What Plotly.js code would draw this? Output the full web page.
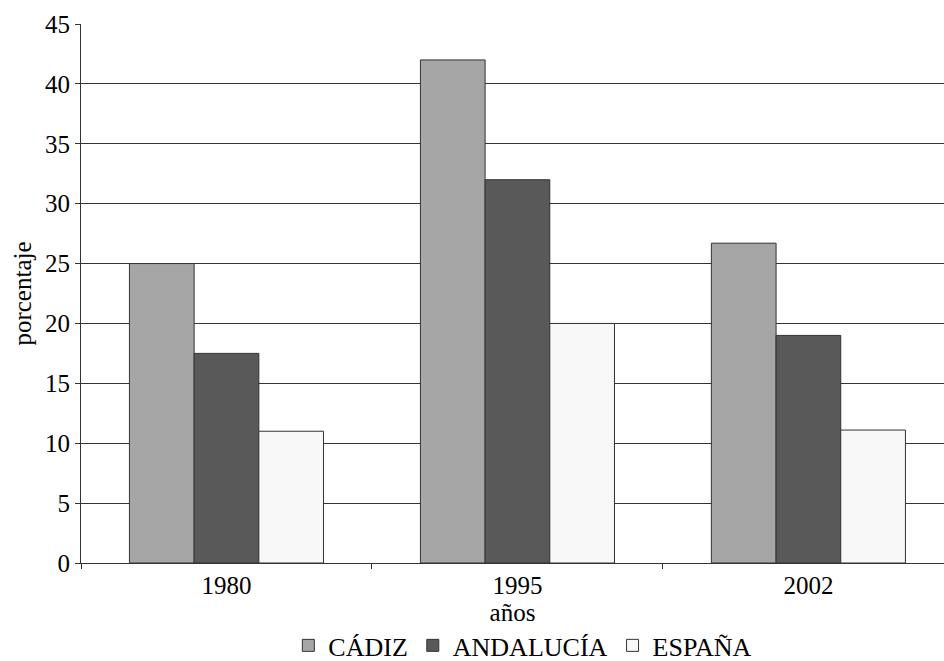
<!DOCTYPE html>
<html>
<head>
<meta charset="utf-8">
<script src="https://cdn.plot.ly/plotly-3.0.1.min.js"></script>
<style>html,body{margin:0;padding:0;background:#fff;}#chart{width:944px;height:661px;}</style>
</head>
<body>
<div id="chart"></div>
<script>
var years = ['1980', '1995', '2002'];
var seriesNames = ['CÁDIZ', 'ANDALUCÍA', 'ESPAÑA'];
var cadiz = [25, 42, 26.7];
var andalucia = [17.5, 32, 19];
var espana = [11, 20, 11.1];
var yTicks = [0, 5, 10, 15, 20, 25, 30, 35, 40, 45];

var values = [cadiz, andalucia, espana];
var fills = ['#a6a6a6', '#595959', '#f8f8f8'];
var font = 'Liberation Serif';

var traces = seriesNames.map(function (name, i) {
  return {
    type: 'bar',
    name: name,
    x: years,
    y: values[i],
    marker: {color: fills[i], line: {color: '#333333', width: 1}},
    hoverinfo: 'x+y+name'
  };
});

var layout = {
  width: 944,
  height: 661,
  margin: {l: 81, r: 0, t: 24, b: 98, pad: 0, autoexpand: false},
  paper_bgcolor: '#ffffff',
  plot_bgcolor: '#ffffff',
  font: {family: font, size: 25, color: '#000000'},
  barmode: 'group',
  bargap: 0.333,
  bargroupgap: 0,
  xaxis: {
    type: 'category',
    range: [-0.5, 2.466],
    tickson: 'boundaries',
    ticks: 'outside',
    ticklen: 5,
    tickcolor: '#333333',
    showline: true,
    linecolor: '#333333',
    linewidth: 1,
    showgrid: false,
    zeroline: false,
    automargin: false,
    tickfont: {family: font, size: 25, color: '#000'},
    title: {text: 'años', font: {family: font, size: 25, color: '#000'}, standoff: 3}
  },
  yaxis: {
    range: [0, 45],
    tickvals: yTicks,
    ticktext: yTicks.map(String),
    ticks: 'outside',
    ticklen: 5,
    tickcolor: '#333333',
    showline: true,
    linecolor: '#333333',
    linewidth: 1,
    showgrid: true,
    gridcolor: '#333333',
    gridwidth: 1,
    zeroline: false,
    automargin: false,
    tickfont: {family: font, size: 25, color: '#000'},
    title: {text: 'porcentaje', font: {family: font, size: 25, color: '#000'}, standoff: 6}
  },
  showlegend: true,
  legend: {
    orientation: 'h',
    x: 0.512,
    xanchor: 'center',
    y: -0.153,
    yanchor: 'middle',
    font: {family: font, size: 26, color: '#000'},
    bgcolor: 'rgba(0,0,0,0)',
    traceorder: 'normal'
  }
};

Plotly.newPlot('chart', traces, layout, {displayModeBar: false, staticPlot: true});
</script>
</body>
</html>
